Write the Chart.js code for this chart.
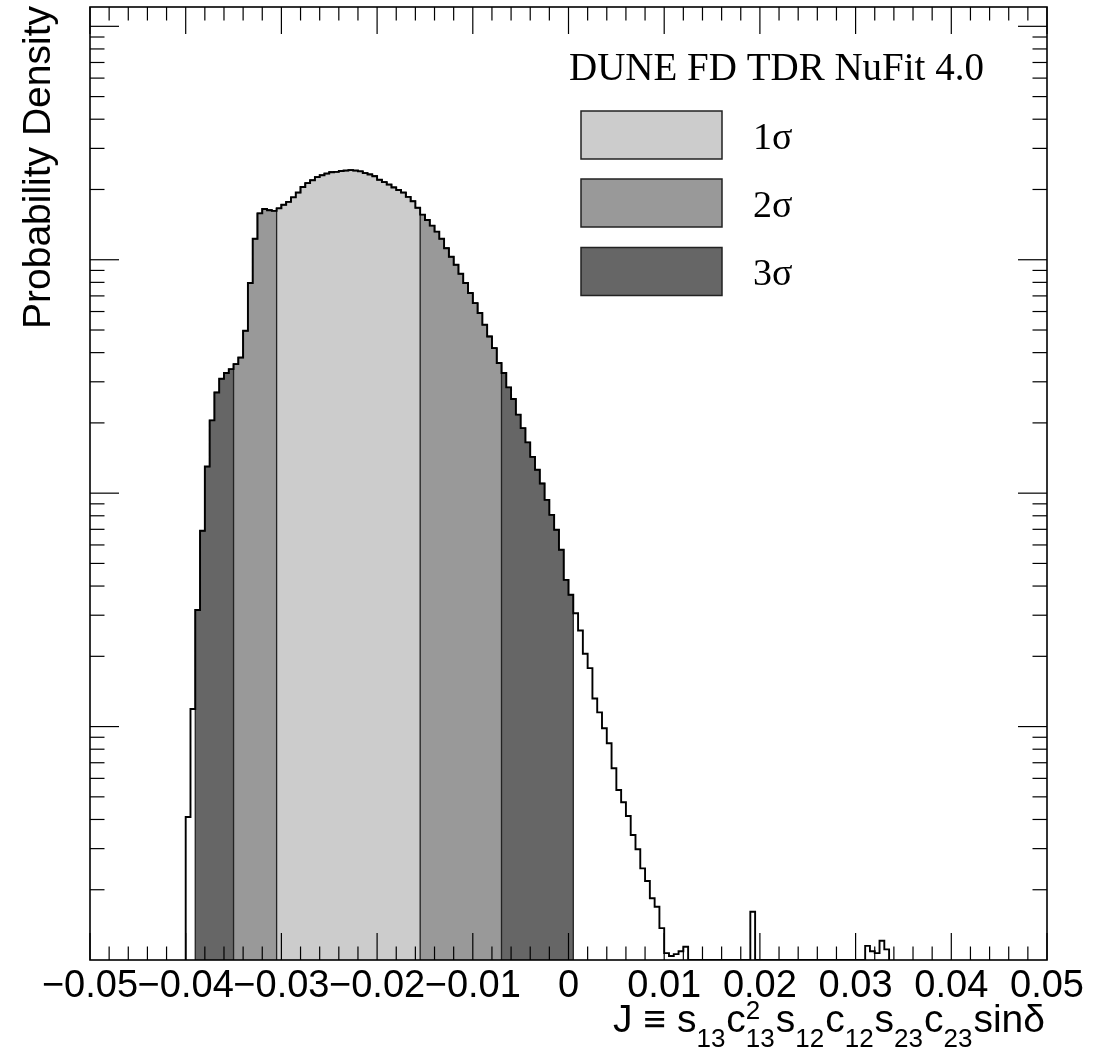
<!DOCTYPE html>
<html><head><meta charset="utf-8">
<script src="https://cdn.jsdelivr.net/npm/chart.js@4.4.1/dist/chart.umd.min.js"></script>
<style>html,body{margin:0;padding:0;background:#fff;overflow:hidden}canvas{display:block}</style>
</head><body>
<canvas id="c" width="1102" height="1049"></canvas>
<script>
// ---------------- data ----------------
const binStart = -0.0400;   // low edge of first listed bin
const binWidth = 0.0005;
const density = [
  0.0410, 0.119, 0.316, 0.690, 1.30, 2.05, 2.70, 3.09, 3.27, 3.40,
  3.57, 3.81, 4.96, 7.95, 12.3, 15.8, 16.5, 16.3, 16.2, 16.6,
  17.2, 17.7, 18.5, 19.4, 20.5, 21.3, 21.9, 22.6, 23.0, 23.4,
  23.7, 23.8, 24.0, 24.1, 24.2, 24.1, 23.9, 23.5, 23.2, 22.8,
  22.0, 21.5, 21.0, 20.4, 19.9, 19.4, 18.6, 17.8, 16.7, 15.6,
  14.8, 14.0, 13.2, 12.3, 11.2, 10.3, 9.52, 8.71, 7.95, 7.20,
  6.52, 5.91, 5.27, 4.69, 4.18, 3.61, 3.27, 2.84, 2.53, 2.17,
  1.90, 1.65, 1.43, 1.26, 1.10, 0.936, 0.807, 0.697, 0.572, 0.425,
  0.367, 0.306, 0.258, 0.205, 0.178, 0.132, 0.115, 0.0984, 0.0849, 0.0663,
  0.0535, 0.0474, 0.0414, 0.0343, 0.0298, 0.0247, 0.0218, 0.0184, 0.0169, 0.0137,
  0.0107, 0.0104, 0.0106, 0.0109, 0.0114,
  0, 0, 0, 0, 0, 0, 0, 0, 0, 0, 0, 0, 0,
  0.0161,
  0, 0, 0, 0, 0, 0, 0, 0, 0, 0, 0, 0, 0, 0, 0, 0, 0, 0, 0, 0, 0, 0, 0,
  0.0115, 0.0109, 0.0107, 0.0121, 0.0111
];
const sigmaLabels = ['1σ', '2σ', '3σ'];
const sigmaLow  = [-0.0305, -0.0350, -0.0390];
const sigmaHigh = [-0.0155, -0.0070, 0.0005];
const sigmaColors = ['#cccccc', '#999999', '#666666'];
const xTickValues = [-0.05, -0.04, -0.03, -0.02, -0.01, 0, 0.01, 0.02, 0.03, 0.04, 0.05];
const xTickLabels = ['\u22120.05', '\u22120.04', '\u22120.03', '\u22120.02', '\u22120.01', '0', '0.01', '0.02', '0.03', '0.04', '0.05'];
const xRange = [-0.05, 0.05];
const yRange = [0.01, 121];
const legendTitle = 'DUNE FD TDR NuFit 4.0';
const yTitle = 'Probability Density';

// ---------------- helpers ----------------
function stepPoints(lo, hi) {
  const pts = [];
  let last = null;
  for (let k = 0; k < density.length; k++) {
    const x0 = binStart + k * binWidth;
    if (x0 < lo - 1e-9 || x0 + binWidth > hi + 1e-9) continue;
    if (!pts.length) pts.push({x: x0, y: yRange[0]});
    pts.push({x: x0, y: Math.max(density[k], yRange[0])});
    last = x0 + binWidth;
  }
  pts.push({x: last, y: yRange[0]});
  return pts;
}

const datasets = [{
  label: 'all',
  data: stepPoints(-1, 1),
  stepped: true, fill: false,
  borderColor: '#000', borderWidth: 1.9,
  pointRadius: 0, order: 0
}];
sigmaLabels.forEach((lab, i) => {
  datasets.push({
    label: lab,
    data: stepPoints(sigmaLow[i], sigmaHigh[i]),
    stepped: true, fill: 'start',
    backgroundColor: sigmaColors[i],
    borderColor: '#222', borderWidth: 1.3,
    pointRadius: 0, order: i + 1
  });
});

function line(ctx, x1, y1, x2, y2) { ctx.beginPath(); ctx.moveTo(x1, y1); ctx.lineTo(x2, y2); ctx.stroke(); }

const deco = {
  id: 'deco',
  afterDatasetsDraw(chart) {
    const {ctx, chartArea: a, scales: {x, y}} = chart;
    ctx.save();
    ctx.strokeStyle = '#000';
    ctx.lineWidth = 1.2;
    // x ticks (bottom and top)
    for (let i = 0; i <= 50; i++) {
      const v = xRange[0] + i * 0.002;
      const px = x.getPixelForValue(v);
      const len = (i % 5 === 0) ? 27 : 13.5;
      line(ctx, px, a.bottom, px, a.bottom - len);
      line(ctx, px, a.top, px, a.top + len);
    }
    // y ticks (log)
    for (let e = -2; e <= 3; e++) {
      for (let m = 1; m <= 9; m++) {
        const v = m * Math.pow(10, e);
        if (v <= yRange[0] * 1.0001 || v > yRange[1]) continue;
        const py = y.getPixelForValue(v);
        const len = (m === 1) ? 29 : 14.5;
        line(ctx, a.left, py, a.left + len, py);
        line(ctx, a.right, py, a.right - len, py);
      }
    }
    // frame
    ctx.lineWidth = 1.6;
    ctx.strokeRect(a.left, a.top, a.right - a.left, a.bottom - a.top);
    ctx.restore();
  },
  afterDraw(chart) {
    const {ctx, chartArea: a} = chart;
    ctx.save();
    ctx.fillStyle = '#000';
    // y title
    ctx.save();
    ctx.font = '39px "Liberation Sans", Arial, sans-serif';
    ctx.translate(50, a.top - 1);
    ctx.rotate(-Math.PI / 2);
    ctx.textAlign = 'right';
    ctx.textBaseline = 'alphabetic';
    ctx.fillText(yTitle, 0, 0);
    ctx.restore();

    // x title with sub/superscripts
    const big = '39px "Liberation Sans", Arial, sans-serif';
    const small = '26px "Liberation Sans", Arial, sans-serif';
    const base = 1032, subBase = 1047, supBase = 1019;
    const parts = [
      {t: 'J \u2261 s', f: big}, {sub: '13'},
      {t: 'c', f: big}, {sub: '13', sup: '2'},
      {t: 's', f: big}, {sub: '12'},
      {t: 'c', f: big}, {sub: '12'},
      {t: 's', f: big}, {sub: '23'},
      {t: 'c', f: big}, {sub: '23'},
      {t: 'sin\u03b4', f: big}
    ];
    let total = 0;
    const widths = parts.map(p => {
      let w;
      if (p.t) { ctx.font = p.f; w = ctx.measureText(p.t).width; }
      else {
        ctx.font = small;
        w = ctx.measureText(p.sub).width;
        if (p.sup) w = Math.max(w, ctx.measureText(p.sup).width);
        w += 1;
      }
      total += w; return w;
    });
    let cx = a.right - 2 - total;
    ctx.textAlign = 'left';
    ctx.textBaseline = 'alphabetic';
    parts.forEach((p, i) => {
      if (p.t) { ctx.font = p.f; ctx.fillText(p.t, cx, base); }
      else {
        ctx.font = small;
        ctx.fillText(p.sub, cx, subBase);
        if (p.sup) ctx.fillText(p.sup, cx, supBase);
      }
      cx += widths[i];
    });

    // legend
    ctx.font = '39px "Liberation Serif", "Times New Roman", serif';
    ctx.fillText(legendTitle, 569, 80);
    const boxTop = [111, 179, 247.5];
    sigmaLabels.forEach((lab, i) => {
      ctx.fillStyle = sigmaColors[i];
      ctx.fillRect(581, boxTop[i], 141, 48);
      ctx.strokeStyle = '#222';
      ctx.lineWidth = 1.5;
      ctx.strokeRect(581, boxTop[i], 141, 48);
      ctx.fillStyle = '#000';
      ctx.font = '38px "Liberation Serif", "Times New Roman", serif';
      ctx.fillText(lab, 753, boxTop[i] + 37.5);
    });
    ctx.restore();
  }
};

new Chart(document.getElementById('c'), {
  type: 'line',
  data: {datasets},
  options: {
    responsive: false,
    animation: false,
    devicePixelRatio: 1,
    layout: {padding: {left: 0, right: 55, top: 7, bottom: 0}},
    plugins: {legend: {display: false}, tooltip: {enabled: false}},
    scales: {
      x: {
        type: 'linear', min: xRange[0], max: xRange[1],
        grid: {display: false, drawTicks: false},
        border: {display: false},
        afterBuildTicks: s => { s.ticks = xTickValues.map(v => ({value: v})); },
        ticks: {
          autoSkip: false, maxRotation: 0, minRotation: 0, padding: 4,
          color: '#000',
          font: {family: '"Liberation Sans", Arial, sans-serif', size: 38},
          callback: (v, i) => xTickLabels[i]
        },
        afterFit: s => { s.height = 89; s.paddingLeft = 0; s.paddingRight = 0; }
      },
      y: {
        type: 'logarithmic', min: yRange[0], max: yRange[1],
        grid: {display: false, drawTicks: false},
        border: {display: false},
        ticks: {display: false},
        afterFit: s => { s.width = 90; s.paddingTop = 0; s.paddingBottom = 0; }
      }
    }
  },
  plugins: [deco]
});
</script>
</body></html>
